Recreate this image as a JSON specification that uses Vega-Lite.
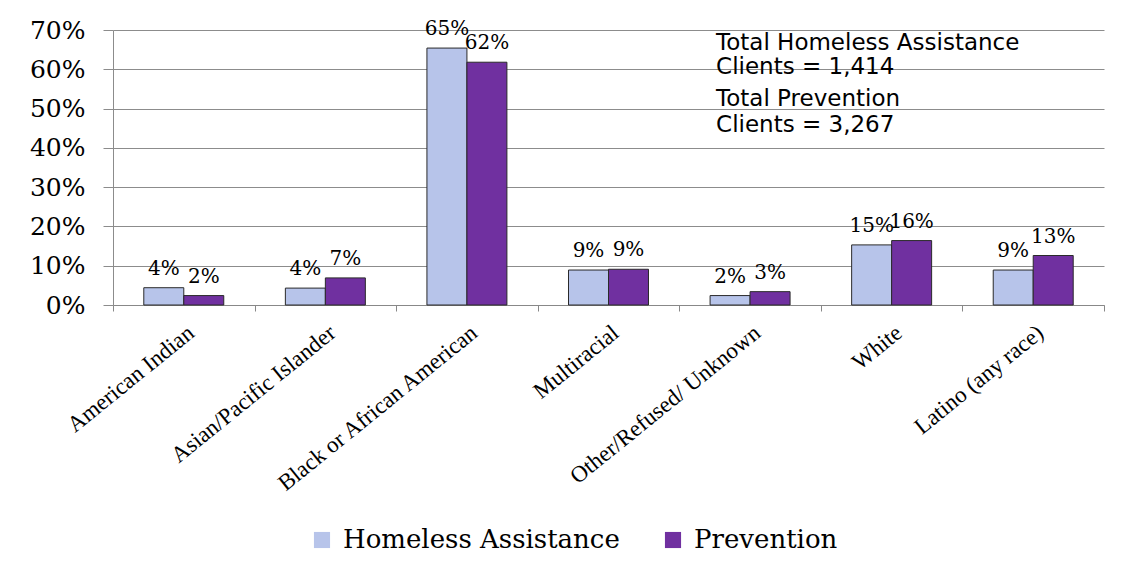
{
  "$schema": "https://vega.github.io/schema/vega-lite/v6.json",
  "width": 991,
  "height": 275,
  "autosize": {"type": "none"},
  "padding": {"left": 113, "top": 30, "right": 26, "bottom": 268},
  "background": "white",
  "config": {"view": {"stroke": null}, "font": "DejaVu Serif"},
  "datasets": {
    "bars": [
      {"race": "American Indian", "series": "Homeless Assistance", "share": 0.044},
      {"race": "American Indian", "series": "Prevention", "share": 0.024},
      {"race": "Asian/Pacific Islander", "series": "Homeless Assistance", "share": 0.043},
      {"race": "Asian/Pacific Islander", "series": "Prevention", "share": 0.069},
      {"race": "Black or African American", "series": "Homeless Assistance", "share": 0.654},
      {"race": "Black or African American", "series": "Prevention", "share": 0.618},
      {"race": "Multiracial", "series": "Homeless Assistance", "share": 0.089},
      {"race": "Multiracial", "series": "Prevention", "share": 0.091},
      {"race": "Other/Refused/ Unknown", "series": "Homeless Assistance", "share": 0.024},
      {"race": "Other/Refused/ Unknown", "series": "Prevention", "share": 0.034},
      {"race": "White", "series": "Homeless Assistance", "share": 0.153},
      {"race": "White", "series": "Prevention", "share": 0.164},
      {"race": "Latino (any race)", "series": "Homeless Assistance", "share": 0.089},
      {"race": "Latino (any race)", "series": "Prevention", "share": 0.126}
    ],
    "notes": [
      {"race": "Other/Refused/ Unknown", "line": "Total Homeless Assistance", "pos": 0.667},
      {"race": "Other/Refused/ Unknown", "line": "Clients =  1,414", "pos": 0.606},
      {"race": "Other/Refused/ Unknown", "line": "Total Prevention", "pos": 0.524},
      {"race": "Other/Refused/ Unknown", "line": "Clients =  3,267", "pos": 0.458}
    ]
  },
  "encoding": {
    "x": {
      "field": "race", "type": "nominal", "sort": null,
      "scale": {"paddingInner": 0, "paddingOuter": 0},
      "axis": {
        "title": null, "labelAngle": -39, "labelFontSize": 23, "labelFont": "Liberation Serif", "labelColor": "#000",
        "labelAlign": "right", "labelBaseline": "top", "labelPadding": 10,
        "tickBand": "extent", "tickSize": 6, "tickColor": "#888", "domainColor": "#888",
        "labelLimit": 400
      }
    },
    "y": {
      "field": "share", "type": "quantitative",
      "scale": {"domain": [0, 0.7]},
      "axis": {
        "title": null, "values": [0, 0.1, 0.2, 0.3, 0.4, 0.5, 0.6, 0.7], "format": ".0%",
        "labelFontSize": 25, "labelColor": "#000", "labelPadding": 18, "labelOverlap": false,
        "grid": true, "gridColor": "#8c8c8c", "tickSize": 10, "tickColor": "#8c8c8c",
        "domainColor": "#8c8c8c"
      }
    }
  },
  "layer": [
    {
      "data": {"name": "bars"},
      "mark": {"type": "bar", "stroke": "#2a2a2a", "strokeWidth": 1},
      "encoding": {
        "xOffset": {
          "field": "series", "type": "nominal", "sort": ["Homeless Assistance", "Prevention"],
          "scale": {"paddingInner": 0, "paddingOuter": 0.77}
        },
        "color": {
          "field": "series", "type": "nominal",
          "scale": {"domain": ["Homeless Assistance", "Prevention"], "range": ["#b7c4ea", "#7030a0"]},
          "legend": {
            "title": null, "orient": "none", "legendX": 196, "legendY": 497,
            "direction": "horizontal", "labelFontSize": 26, "labelColor": "#000", "labelLimit": 500,
            "symbolType": "square", "symbolSize": 260, "symbolStrokeColor": "#555", "symbolStrokeWidth": 1,
            "columnPadding": 40, "labelOffset": 8,
            "encode": {"symbols": {"update": {"fill": {"signal": "datum.value === 'Homeless Assistance' ? '#c4c4c4' : '#6a2aa8'"}, "opacity": {"value": 1}}}}
          }
        }
      }
    },
    {
      "data": {"name": "bars"},
      "mark": {"type": "text", "baseline": "bottom", "dy": -9, "fontSize": 20, "color": "#000"},
      "encoding": {
        "xOffset": {"field": "series", "type": "nominal", "sort": ["Homeless Assistance", "Prevention"]},
        "text": {"field": "share", "type": "quantitative", "format": ".0%"}
      }
    },
    {
      "data": {"name": "notes"},
      "mark": {"type": "text", "align": "left", "baseline": "middle", "font": "DejaVu Sans", "fontSize": 23, "dx": -34, "color": "#000"},
      "encoding": {
        "y": {"field": "pos", "type": "quantitative"},
        "text": {"field": "line"}
      }
    }
  ]
}
